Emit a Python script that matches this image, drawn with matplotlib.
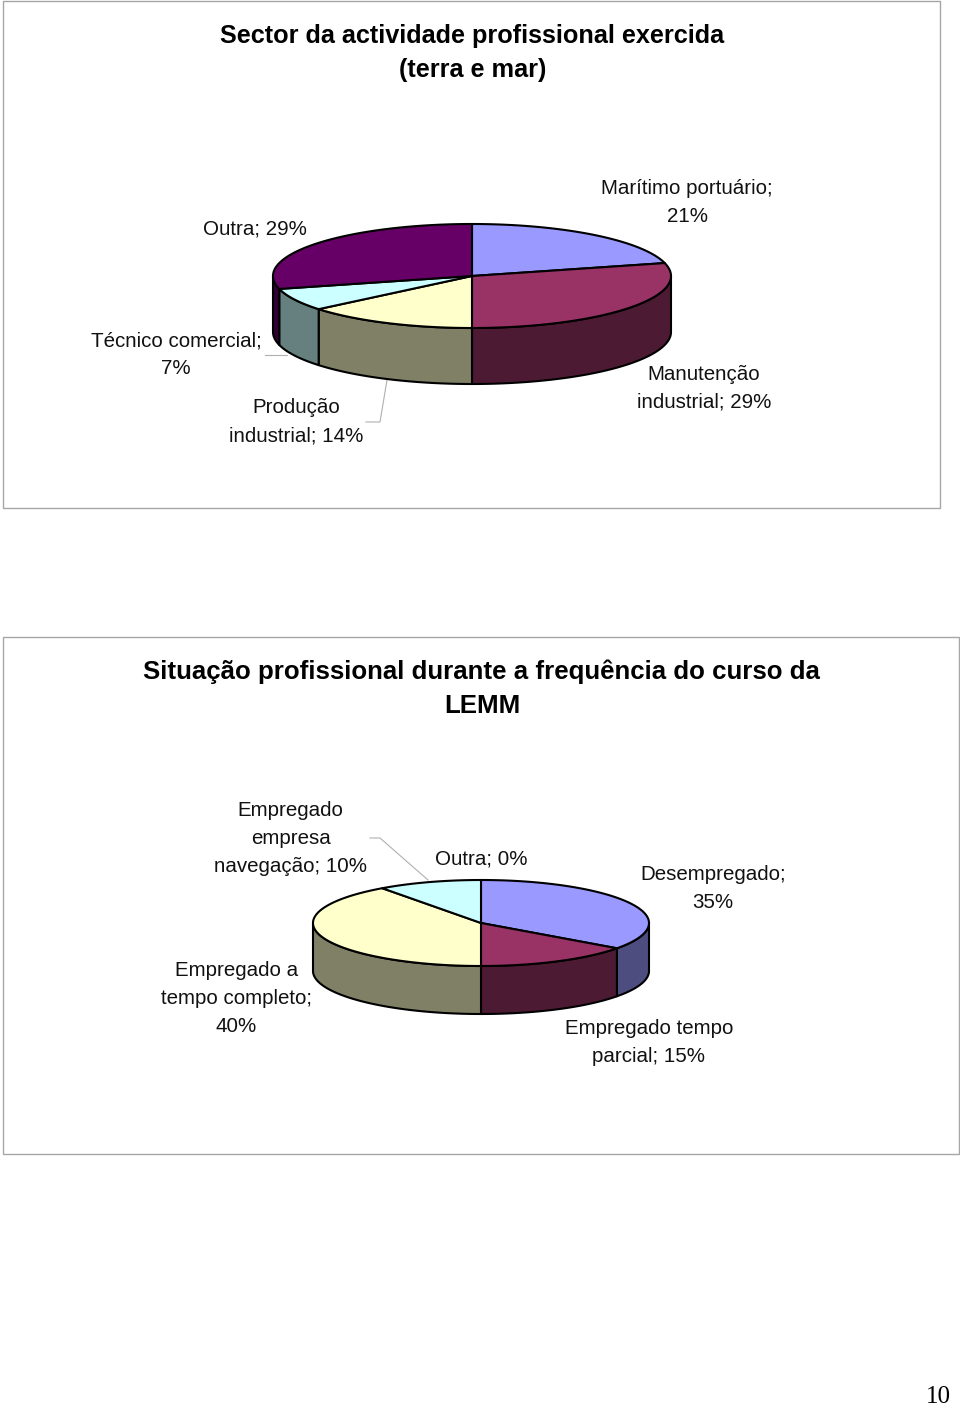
import numpy as np
import matplotlib
matplotlib.use('Agg')
import matplotlib.pyplot as plt
from matplotlib.patches import Rectangle

plt.rcParams['font.family'] = ['Liberation Sans', 'DejaVu Sans']

#### values of the two pies, clockwise from the top
sector_labels = ['Marítimo portuário;\n21%', 'Manutenção\nindustrial; 29%', 'Produção\nindustrial; 14%',
                 'Técnico comercial;\n7%', 'Outra; 29%']
sector_values = [21, 29, 14, 7, 29]
situacao_labels = ['Desempregado;\n35%', 'Empregado tempo\nparcial; 15%', 'Empregado a\ntempo completo;\n40%',
                   'Empregado\nempresa\nnavegação; 10%', 'Outra; 0%']
situacao_values = [35, 15, 40, 10, 0]

top_colors = ['#9999FF', '#993366', '#FFFFCC', '#CCFFFF', '#660066']
side_colors = ['#4D4D80', '#4D1A33', '#808066', '#668080', '#330033']

FRAME = '#A6A6A6'
LEADER = '#B0B0B0'
LABEL_SIZE = 14.8


def pie3d(ax, values, cx, cy, rx, ry, depth):
    # clockwise angle from the top, y axis points down (pixel coords)
    bounds = np.cumsum([0] + list(values)) / np.sum(values) * 2 * np.pi
    arc = lambda t: (cx + rx * np.sin(t), cy - ry * np.cos(t))
    for i in range(len(values)):
        t0, t1 = bounds[i], bounds[i + 1]
        # only the front half of the rim can be seen
        s0, s1 = max(t0, np.pi / 2), min(t1, 3 * np.pi / 2)
        if s1 > s0:
            t = np.linspace(s0, s1, 100)
            x, y = arc(t)
            ax.fill(np.r_[x, x[::-1]], np.r_[y, y[::-1] + depth], fc=side_colors[i],
                    ec='black', lw=1.5, joinstyle='round', zorder=2)
    for i in range(len(values)):
        t0, t1 = bounds[i], bounds[i + 1]
        if t1 > t0:
            t = np.linspace(t0, t1, 150)
            x, y = arc(t)
            ax.fill(np.r_[cx, x], np.r_[cy, y], fc=top_colors[i],
                    ec='black', lw=1.5, joinstyle='round', zorder=3)


fig = plt.figure(figsize=(9.6, 14.07), dpi=100)
ax = fig.add_axes([0, 0, 1, 1])
ax.set_xlim(0, 960)
ax.set_ylim(1407, 0)
ax.axis('off')

ax.add_patch(Rectangle((3, 1), 937, 507, fc='white', ec=FRAME, lw=1))
ax.add_patch(Rectangle((3, 637), 955.5, 517, fc='white', ec=FRAME, lw=1))

# chart a
ax.text(472, 36, 'Sector da actividade profissional exercida', fontsize=18.2, fontweight='bold', ha='center', va='center')
ax.text(473, 70, '(terra e mar)', fontsize=18.2, fontweight='bold', ha='center', va='center')
pie3d(ax, sector_values, 472, 276, 199, 52, 56)
ax.plot([387, 380, 366], [380, 422, 422], color=LEADER, lw=0.8, zorder=1)
ax.plot([265, 287], [355, 355], color=LEADER, lw=0.8, zorder=1)
pos_a = [(687, 203), (704, 388), (296, 421.5), (176, 355), (255, 229)]
for lab, (x, y) in zip(sector_labels, pos_a):
    ax.text(x, y, lab, fontsize=LABEL_SIZE, ha='center', va='center', linespacing=1.6, color='#111111')

# chart b
ax.text(481.5, 672, 'Situação profissional durante a frequência do curso da', fontsize=18.6, fontweight='bold',
        ha='center', va='center')
ax.text(482.5, 706, 'LEMM', fontsize=18.6, fontweight='bold', ha='center', va='center')
pie3d(ax, situacao_values, 481, 923, 168, 43, 48)
ax.plot([370, 380, 428], [838, 838, 880], color=LEADER, lw=0.8, zorder=1)
pos_b = [(713, 888.5), (649, 1042.5), (236.5, 998.5), (290.5, 839), (481.5, 859)]
for lab, (x, y) in zip(situacao_labels, pos_b):
    ax.text(x, y, lab, fontsize=LABEL_SIZE, ha='center', va='center', linespacing=1.6, color='#111111')

# page number
ax.text(938, 1397, '10', fontsize=18, family='Liberation Serif', ha='center', va='center')

fig.savefig('out.png', dpi=100)
